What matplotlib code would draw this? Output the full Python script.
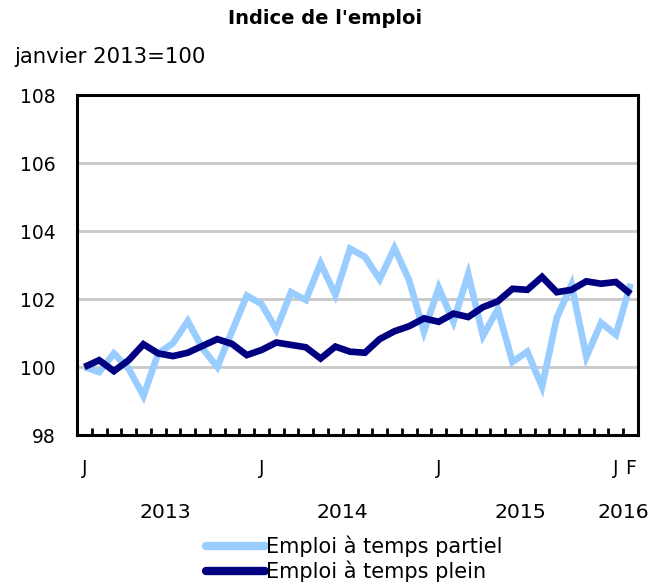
import matplotlib
matplotlib.use("Agg")
import matplotlib.pyplot as plt
import matplotlib.transforms as mtransforms
import numpy as np

# ---- data ----
months = ["J", "F", "M", "A", "M", "J", "J", "A", "S", "O", "N", "D"] * 3 + ["J", "F"]
month_labels_shown = {0: "J", 12: "J", 24: "J", 36: "J", 37: "F"}
years = ["2013", "2014", "2015", "2016"]
year_centers = [5.5, 17.5, 29.5, 36.5]

partiel = [100.0, 99.85, 100.4, 99.95, 99.15, 100.4, 100.7, 101.35, 100.55, 100.0,
           101.05, 102.1, 101.85, 101.1, 102.2, 101.97, 103.05, 102.12, 103.48, 103.24,
           102.58, 103.5, 102.55, 101.04, 102.33, 101.33, 102.73, 100.92, 101.7, 100.15,
           100.45, 99.42, 101.45, 102.42, 100.3, 101.3, 100.95, 102.45]
plein = [100.0, 100.2, 99.88, 100.2, 100.67, 100.4, 100.32, 100.42, 100.62, 100.82,
         100.68, 100.35, 100.5, 100.72, 100.65, 100.58, 100.25, 100.6, 100.45, 100.42,
         100.82, 101.05, 101.2, 101.43, 101.33, 101.57, 101.47, 101.76, 101.93, 102.3,
         102.27, 102.65, 102.2, 102.27, 102.52, 102.45, 102.5, 102.15]

yticks = [98, 100, 102, 104, 106, 108]

light = "#99CCFF"
dark = "#000080"

fig = plt.figure(figsize=(6.68, 5.86), dpi=100)
ax = fig.add_axes([77 / 668, 1 - 435 / 586, (638 - 77) / 668, (435 - 95) / 586])

x = np.arange(len(partiel))
l1, = ax.plot(x, partiel, color=light, lw=4.8, solid_joinstyle="miter", solid_capstyle="butt",
              label="Emploi à temps partiel", zorder=3)
l2, = ax.plot(x, plein, color=dark, lw=4.8, solid_joinstyle="miter", solid_capstyle="butt",
              label="Emploi à temps plein", zorder=4)

ax.set_xlim(-0.5, len(partiel) - 0.5)
ax.set_ylim(98, 108)
ax.set_yticks(yticks)
ax.set_yticklabels([str(v) for v in yticks], fontsize=13.5)
ax.tick_params(axis="y", length=0, pad=15.5)
for v in yticks[1:-1]:
    ax.axhline(v, color="#C8C8C8", lw=2, zorder=1)

# boundary ticks
ax.set_xticks(np.arange(0.5, len(partiel) - 0.5, 1.0))
ax.set_xticklabels([])
ax.tick_params(axis="x", which="major", direction="in", length=5, width=2, color="black")
# month letters
pos = sorted(month_labels_shown)
ax.set_xticks(pos, minor=True)
ax.set_xticklabels([month_labels_shown[p] for p in pos], minor=True, fontsize=13.5)
ax.tick_params(axis="x", which="minor", length=0, pad=17)

trans = mtransforms.blended_transform_factory(ax.transData, fig.transFigure)
for yr, c in zip(years, year_centers):
    ax.text(c, 1 - 513 / 586, yr, transform=trans, ha="center", va="center", fontsize=14.7)

for s in ax.spines.values():
    s.set_linewidth(2.2)
    s.set_color("black")

fig.text(0.4865, 1 - 18 / 586, "Indice de l'emploi", ha="center", va="center",
         fontsize=14, fontweight="bold")
fig.text(14 / 668, 1 - 57 / 586, "janvier 2013=100", ha="left", va="center", fontsize=15.3)

leg = fig.legend(handles=[l1, l2], loc="center left",
                 bbox_to_anchor=(196 / 668, 1 - 559 / 586), frameon=False,
                 fontsize=15, handlelength=2.8, handletextpad=0.08, labelspacing=0.18,
                 borderpad=0)
for h in leg.get_lines():
    h.set_solid_capstyle("round")
    h.set_linewidth(6)

fig.savefig("out.png", dpi=100)
